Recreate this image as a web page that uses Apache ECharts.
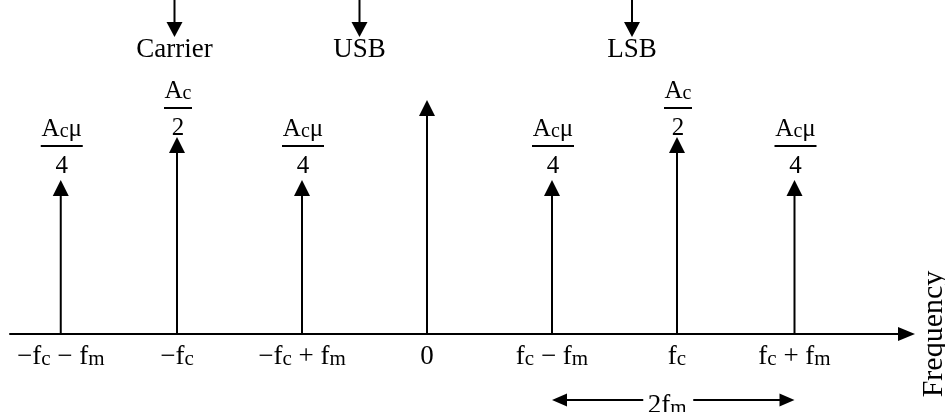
<!DOCTYPE html>
<html>
<head>
<meta charset="utf-8">
<script src="https://cdn.jsdelivr.net/npm/echarts@6/dist/echarts.min.js"></script>
<style>
  html, body { margin: 0; padding: 0; background: #fff; }
  #chart { width: 945px; height: 412px; }
</style>
</head>
<body>
<div id="chart"></div>
<script>
// Spectrum of an AM wave: carrier and side-band lines on a frequency axis.
// Text marked with "_x" draws x as a subscript.
const freqPositions = [-2.93, -2, -1, 0, 1, 2, 2.94];
const freqLabels = ['−f_c − f_m', '−f_c', '−f_c + f_m', '0', 'f_c − f_m', 'f_c', 'f_c + f_m'];
const lineAmplitudes = [1.54, 1.97, 1.54, 2.34, 1.54, 1.97, 1.54];
const numerators = ['A_cμ', 'A_c', 'A_cμ', '', 'A_cμ', 'A_c', 'A_cμ'];
const denominators = ['4', '2', '4', '', '4', '2', '4'];

// Pointer labels above the lines
const noteNames = ['Carrier', 'USB', 'LSB'];
const notePositions = [-2.02, -0.54, 1.64];

// Bandwidth marker below the axis
const bandwidthLabel = '2f_m';
const bandwidthSpan = [1, 2.94];

const FONT = '"Liberation Serif", "Times New Roman", serif';
const INK = '#000';

function toRich(s, main, sub) {
  return s.split(/(_\S)/).filter(Boolean)
    .map(p => p[0] === '_' ? '{' + sub + '|' + p.slice(1) + '}' : '{' + main + '|' + p + '}')
    .join('');
}

const tickRich = {
  t: { fontFamily: FONT, fontSize: 27, color: INK, lineHeight: 30, verticalAlign: 'bottom' },
  s: { fontFamily: FONT, fontSize: 21, color: INK, lineHeight: 14, verticalAlign: 'bottom' }
};
const fracRich = {
  t: { fontFamily: FONT, fontSize: 25, color: INK, lineHeight: 28, verticalAlign: 'bottom' },
  s: { fontFamily: FONT, fontSize: 20, color: INK, lineHeight: 13, verticalAlign: 'bottom' }
};

function arrowUp(x, y, w, h) {
  return { type: 'polygon', shape: { points: [[x, y], [x - w / 2, y + h], [x + w / 2, y + h]] }, style: { fill: INK } };
}
function arrowDown(x, y, w, h) {
  return { type: 'polygon', shape: { points: [[x, y], [x - w / 2, y - h], [x + w / 2, y - h]] }, style: { fill: INK } };
}

function renderLine(params, api) {
  const i = api.value(2);
  const base = api.coord([api.value(0), 0]);
  const tip = api.coord([api.value(0), api.value(1)]);
  const x = base[0];
  const children = [
    { type: 'line', shape: { x1: x, y1: base[1], x2: x, y2: tip[1] + 10 }, style: { stroke: INK, lineWidth: 2 } },
    arrowUp(x, tip[1], 16, 16)
  ];
  if (denominators[i]) {
    const isCarrier = denominators[i] === '2';
    const barY = tip[1] - (isCarrier ? 29 : 34);
    const barW = isCarrier ? 28 : 42;
    children.push(
      { type: 'rect', shape: { x: x - barW / 2 + 1, y: barY - 1, width: barW, height: 2 }, style: { fill: INK } },
      { type: 'text', x: x + 1, y: barY - 4,
        style: { text: toRich(numerators[i], 't', 's'), rich: fracRich, align: 'center', verticalAlign: 'bottom' } },
      { type: 'text', x: x + 1, y: barY + 8,
        style: { text: denominators[i], fontFamily: FONT, fontSize: 25, fill: INK, align: 'center', verticalAlign: 'top' } }
    );
  }
  return { type: 'group', children };
}

function renderNote(params, api) {
  const top = api.coord([api.value(0), 3.34]);
  const x = top[0];
  const tipY = top[1] + 37;
  return {
    type: 'group',
    children: [
      { type: 'line', shape: { x1: x, y1: top[1], x2: x, y2: tipY - 10 }, style: { stroke: INK, lineWidth: 2 } },
      arrowDown(x, tipY, 16, 15),
      { type: 'text', x: x, y: tipY - 1,
        style: { text: noteNames[api.value(1)], fontFamily: FONT, fontSize: 27, fill: INK, align: 'center', verticalAlign: 'top' } }
    ]
  };
}

function renderBandwidth(params, api) {
  const a = api.coord([api.value(0), 0]);
  const b = api.coord([api.value(1), 0]);
  const y = a[1] + 66;
  const mid = (a[0] + b[0]) / 2;
  const textX = mid - 6;
  return {
    type: 'group',
    children: [
      { type: 'line', shape: { x1: a[0] + 10, y1: y, x2: textX - 24, y2: y }, style: { stroke: INK, lineWidth: 2 } },
      { type: 'line', shape: { x1: textX + 26, y1: y, x2: b[0] - 10, y2: y }, style: { stroke: INK, lineWidth: 2 } },
      { type: 'polygon', shape: { points: [[a[0], y], [a[0] + 15, y - 6.5], [a[0] + 15, y + 6.5]] }, style: { fill: INK } },
      { type: 'polygon', shape: { points: [[b[0], y], [b[0] - 15, y - 6.5], [b[0] - 15, y + 6.5]] }, style: { fill: INK } },
      { type: 'text', x: textX, y: y + 4,
        style: { text: toRich(bandwidthLabel, 't', 's'), rich: tickRich, align: 'center', verticalAlign: 'middle' } }
    ]
  };
}

const chart = echarts.init(document.getElementById('chart'), null, { renderer: 'canvas' });
chart.setOption({
  backgroundColor: '#fff',
  animation: false,
  grid: { left: 10, right: 38.5, top: 0, bottom: 78, outerBoundsMode: 'none' },
  xAxis: {
    type: 'value',
    min: -3.336,
    max: 3.836,
    splitLine: { show: false },
    axisTick: { show: false },
    axisLine: {
      show: true,
      onZero: false,
      symbol: ['none', 'triangle'],
      symbolSize: [14, 17],
      lineStyle: { color: INK, width: 2 }
    },
    axisLabel: {
      customValues: freqPositions,
      margin: 6,
      formatter: v => {
        const k = freqPositions.findIndex(p => Math.abs(p - v) < 1e-6);
        return k < 0 ? '' : toRich(freqLabels[k], 't', 's');
      },
      rich: tickRich
    },
    name: 'Frequency',
    nameLocation: 'end',
    nameRotate: 90,
    nameGap: 13,
    nameTextStyle: { fontFamily: FONT, fontSize: 30, color: INK }
  },
  yAxis: { type: 'value', min: 0, max: 3.34, show: false },
  series: [
    {
      type: 'custom',
      silent: true,
      clip: false,
      renderItem: renderLine,
      data: freqPositions.map((p, i) => [p, lineAmplitudes[i], i])
    },
    {
      type: 'custom',
      silent: true,
      clip: false,
      renderItem: renderNote,
      data: notePositions.map((p, i) => [p, i])
    },
    {
      type: 'custom',
      silent: true,
      clip: false,
      renderItem: renderBandwidth,
      data: [bandwidthSpan]
    }
  ]
});
</script>
</body>
</html>
